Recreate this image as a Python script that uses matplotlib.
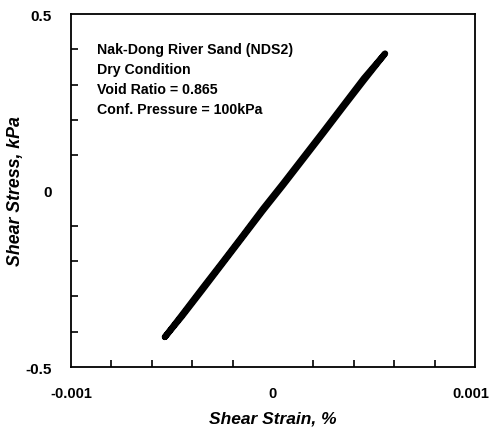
import matplotlib
matplotlib.use('Agg')
import matplotlib.pyplot as plt
import matplotlib.ticker as ticker
import matplotlib.transforms as mtransforms

strain = [-0.000535, -0.00045, -0.00035, -0.00025, -0.00015, -0.00005, 0.00005,
          0.00015, 0.00025, 0.00035, 0.00045, 0.000555,
          0.00045, 0.00035, 0.00025, 0.00015, 0.00005, -0.00005, -0.00015,
          -0.00025, -0.00035, -0.00045, -0.000535]
stress = [-0.415, -0.352, -0.277, -0.203, -0.128, -0.052, 0.020,
          0.094, 0.168, 0.243, 0.318, 0.388,
          0.312, 0.238, 0.163, 0.089, 0.015, -0.057, -0.132,
          -0.207, -0.282, -0.356, -0.415]

info_lines = ['Nak-Dong River Sand (NDS2)', 'Dry Condition',
              'Void Ratio = 0.865', 'Conf. Pressure = 100kPa']

plt.rcParams['font.family'] = ['Liberation Sans', 'DejaVu Sans']
plt.rcParams['axes.unicode_minus'] = False

fig = plt.figure(figsize=(4.92, 4.35), dpi=100)
ax = fig.add_axes([0.1443, 0.154, 0.8211, 0.8115])

ax.plot(strain, stress, color='black', linewidth=4.5, solid_capstyle='round',
        solid_joinstyle='round')

ax.set_xlim(-0.001, 0.001)
ax.set_ylim(-0.5, 0.5)
ax.xaxis.set_major_locator(ticker.FixedLocator([-0.001, 0, 0.001]))
ax.yaxis.set_major_locator(ticker.FixedLocator([-0.5, 0, 0.5]))
ax.xaxis.set_minor_locator(ticker.MultipleLocator(0.0002))
ax.yaxis.set_minor_locator(ticker.MultipleLocator(0.1))
ax.xaxis.set_major_formatter(ticker.FuncFormatter(lambda v, p: '0' if v == 0 else f'{v:g}'))
ax.yaxis.set_major_formatter(ticker.FuncFormatter(lambda v, p: '0' if v == 0 else f'{v:g}'))

ax.tick_params(which='both', direction='in', length=5, width=1.2, colors='black')
ax.tick_params(which='major', length=0)
ax.tick_params(axis='x', which='major', pad=14, labelsize=10.5)
ax.tick_params(axis='y', which='major', pad=14, labelsize=11)
for lab in ax.get_xticklabels() + ax.get_yticklabels():
    lab.set_fontweight('bold')
for s in ax.spines.values():
    s.set_linewidth(1.3)

# nudge the right-most x label so it stays inside the figure
last = ax.get_xticklabels()[-1]
last.set_transform(last.get_transform() + mtransforms.ScaledTranslation(-4 / 100, 0, fig.dpi_scale_trans))

ax.set_xlabel('Shear Strain, %', fontsize=12.5, fontweight='bold', style='italic', labelpad=7)
ax.set_ylabel('Shear Stress, kPa', fontsize=12.8, fontweight='bold', style='italic', labelpad=1)

for i, line in enumerate(info_lines):
    ax.text(0.065, 0.9 - i * 0.0567, line, transform=ax.transAxes, fontsize=10.2,
            fontweight='bold', va='center', ha='left')

fig.savefig('out.png', dpi=100)
